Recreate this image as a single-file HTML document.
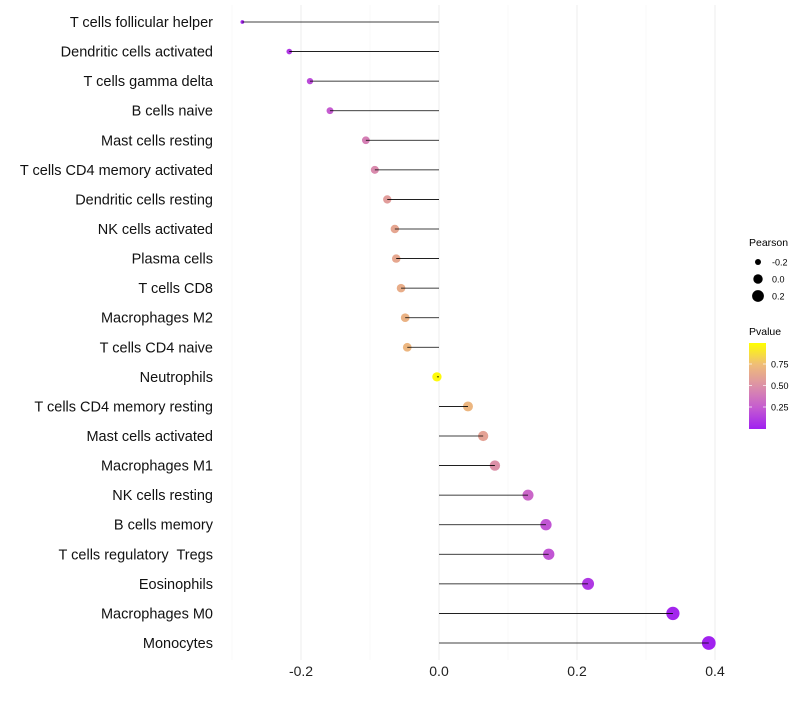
<!DOCTYPE html>
<html><head><meta charset="utf-8"><style>
body{margin:0;background:#fff;font-family:"Liberation Sans",sans-serif}
</style></head><body>
<svg id="chart" width="800" height="700" xmlns="http://www.w3.org/2000/svg">
<defs><linearGradient id="pg" x1="0" y1="1" x2="0" y2="0">
<stop offset="0" stop-color="#a020f0"/><stop offset="0.25" stop-color="#c55cd0"/><stop offset="0.5" stop-color="#dc90a8"/><stop offset="0.75" stop-color="#efbd78"/><stop offset="1" stop-color="#ffff00"/></linearGradient></defs>
<g id="grid"></g><g id="dots"></g><g id="marks"></g><g id="labels"></g>
<g font-size="10" fill="#000">
<text x="749" y="246" font-size="10.5">Pearson</text>
<circle cx="758" cy="262" r="3"/><text x="772" y="265.5" font-size="9">-0.2</text>
<circle cx="758" cy="279" r="4.7"/><text x="772" y="282.5" font-size="9">0.0</text>
<circle cx="758" cy="296" r="5.9"/><text x="772" y="299.5" font-size="9">0.2</text>
</g>
<g>
<text x="749" y="335" font-size="10.5">Pvalue</text>
<rect x="749" y="343" width="17" height="86" fill="url(#pg)"/>
<g stroke="#fff" stroke-width="1" opacity="0.7"><line x1="749" x2="752" y1="364" y2="364"/><line x1="763" x2="766" y1="364" y2="364"/><line x1="749" x2="752" y1="385.5" y2="385.5"/><line x1="763" x2="766" y1="385.5" y2="385.5"/><line x1="749" x2="752" y1="407" y2="407"/><line x1="763" x2="766" y1="407" y2="407"/></g>
<text x="771" y="367.5" font-size="9">0.75</text><text x="771" y="389" font-size="9">0.50</text><text x="771" y="410.5" font-size="9">0.25</text>
</g>
</svg>
<script>
const categories=["T cells follicular helper","Dendritic cells activated","T cells gamma delta","B cells naive","Mast cells resting","T cells CD4 memory activated","Dendritic cells resting","NK cells activated","Plasma cells","T cells CD8","Macrophages M2","T cells CD4 naive","Neutrophils","T cells CD4 memory resting","Mast cells activated","Macrophages M1","NK cells resting","B cells memory","T cells regulatory\u00a0 Tregs","Eosinophils","Macrophages M0","Monocytes"];
const pearson=[-0.285,-0.217,-0.187,-0.158,-0.106,-0.093,-0.075,-0.064,-0.062,-0.055,-0.049,-0.046,-0.003,0.042,0.064,0.081,0.129,0.155,0.159,0.216,0.339,0.391];
const pvalues=[0.03,0.1,0.18,0.25,0.42,0.47,0.57,0.62,0.63,0.66,0.69,0.71,0.98,0.71,0.6,0.5,0.3,0.22,0.22,0.1,0.02,0.01];
const xTicks=[-0.2,0,0.2,0.4];
const xTickLabels=["-0.2","0.0","0.2","0.4"];
const xMinor=[-0.3,-0.1,0.1,0.3];
const NS="http://www.w3.org/2000/svg";
const x=v=>439+v*690;
const y=i=>22+i*(643-22)/(categories.length-1);
const r=v=>Math.sqrt(Math.max(1,22+65*v));
const stops=[[0,[160,32,240]],[0.25,[197,92,208]],[0.5,[220,144,168]],[0.75,[239,189,120]],[1,[255,255,0]]];
function col(p){for(let k=0;k<stops.length-1;k++){const[a,ca]=stops[k],[b,cb]=stops[k+1];if(p<=b){const t=(p-a)/(b-a);return`rgb(${ca.map((c,j)=>Math.round(c+(cb[j]-c)*t)).join(",")})`;}}return"rgb(255,255,0)";}
function mk(tag,attrs,parent){const e=document.createElementNS(NS,tag);for(const k in attrs)e.setAttribute(k,attrs[k]);parent.appendChild(e);return e;}
const grid=document.getElementById("grid"),dots=document.getElementById("dots"),marks=document.getElementById("marks"),labels=document.getElementById("labels");
xMinor.forEach(v=>{const l=mk("line",{x1:x(v),x2:x(v),y1:5,y2:660,stroke:"#f5f5f5","stroke-width":0.6},grid);

});
xTicks.forEach((v,i)=>{const l=mk("line",{x1:x(v),x2:x(v),y1:5,y2:660,stroke:"#ececec","stroke-width":0.9},grid);


const t=mk("text",{x:x(v),y:676,"text-anchor":"middle","font-size":14,fill:"#222"},labels);t.textContent=xTickLabels[i];

});
categories.forEach((c,i)=>{
const ci=mk("circle",{cx:x(pearson[i]),cy:y(i),r:r(pearson[i]),fill:col(pvalues[i])},dots);


const ln=mk("line",{x1:x(0),x2:x(pearson[i]),y1:y(i),y2:y(i),stroke:"#000","stroke-width":0.8},marks);


const t=mk("text",{x:213,y:y(i)+5,"text-anchor":"end","font-size":14.5,fill:"#111"},labels);t.textContent=c;

});
</script>
</body></html>
